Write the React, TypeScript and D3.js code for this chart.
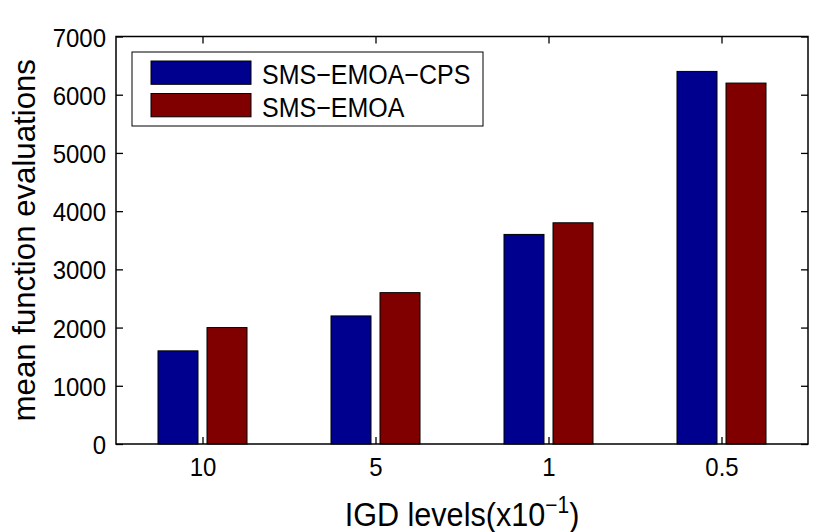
import { useEffect, useRef } from "react";
import * as d3 from "d3";

const levels = ["10", "5", "1", "0.5"];
const seriesNames = ["SMS−EMOA−CPS", "SMS−EMOA"];
const cpsValues = [1600, 2200, 3600, 6400];
const emoaValues = [2000, 2600, 3800, 6200];
const yTicks = [0, 1000, 2000, 3000, 4000, 5000, 6000, 7000];
const colors = ["#00008f", "#800000"];

const App = () => {
  const svgRef = useRef<SVGSVGElement>(null);

  useEffect(() => {
    if (!svgRef.current) return;
    const svg = d3.select(svgRef.current);
    svg.selectAll("*").remove();

    const width = 830;
    const height = 532;
    const margin = { top: 36.5, right: 22, bottom: 88, left: 116 };
    const font = "'Liberation Sans', Arial, Helvetica, sans-serif";

    const data = levels.map((key, i) => ({ key, values: [cpsValues[i], emoaValues[i]] }));

    const x0 = d3
      .scaleBand()
      .domain(levels)
      .range([margin.left, width - margin.right])
      .paddingInner(0.4855)
      .paddingOuter(0.4855 / 2);
    const x1 = d3
      .scaleBand()
      .domain(seriesNames)
      .range([0, x0.bandwidth()])
      .paddingInner(0.1837);
    const y = d3
      .scaleLinear()
      .domain([0, 7000])
      .range([height - margin.bottom, margin.top]);

    // bars
    svg
      .append("g")
      .selectAll("g")
      .data(data)
      .join("g")
      .attr("transform", (d) => `translate(${x0(d.key)},0)`)
      .selectAll("rect")
      .data((d) => d.values.map((v, i) => ({ name: seriesNames[i], v, i })))
      .join("rect")
      .attr("x", (d) => x1(d.name)!)
      .attr("y", (d) => y(d.v))
      .attr("width", x1.bandwidth())
      .attr("height", (d) => y(0) - y(d.v))
      .attr("fill", (d) => colors[d.i])
      .attr("stroke", "#000")
      .attr("stroke-width", 1);

    const left = margin.left;
    const right = width - margin.right;
    const top = margin.top;
    const bottom = height - margin.bottom;

    // axes (inward ticks, mirrored on top/right)
    const yAxis = d3.axisLeft(y).tickValues(yTicks).tickSize(-7).tickPadding(10).tickFormat(d3.format("d"));
    const gy = svg.append("g").attr("transform", `translate(${left},0)`).call(yAxis);
    gy.select(".domain").remove();
    gy.selectAll("text")
      .attr("font-size", 24)
      .attr("font-family", font)
      .attr("fill", "#000")
      .attr("dy", "0.36em")
      .attr("transform", "scale(1,1.1)");
    gy.selectAll("line").attr("stroke", "#000").attr("stroke-width", 1.3);

    const gyr = svg
      .append("g")
      .attr("transform", `translate(${right},0)`)
      .call(d3.axisRight(y).tickValues(yTicks).tickSize(-7).tickFormat(() => ""));
    gyr.select(".domain").remove();
    gyr.selectAll("line").attr("stroke", "#000").attr("stroke-width", 1.3);

    const centers = d3.scalePoint().domain(levels).range([
      x0(levels[0])! + x0.bandwidth() / 2,
      x0(levels[levels.length - 1])! + x0.bandwidth() / 2,
    ]);
    const gx = svg
      .append("g")
      .attr("transform", `translate(0,${bottom})`)
      .call(d3.axisBottom(centers).tickSize(-7).tickPadding(12));
    gx.select(".domain").remove();
    gx.selectAll("text")
      .attr("font-size", 24)
      .attr("font-family", font)
      .attr("fill", "#000")
      .attr("transform", "scale(1,1.1)");
    gx.selectAll("line").attr("stroke", "#000").attr("stroke-width", 1.3);

    const gxt = svg
      .append("g")
      .attr("transform", `translate(0,${top})`)
      .call(d3.axisTop(centers).tickSize(-7).tickFormat(() => ""));
    gxt.select(".domain").remove();
    gxt.selectAll("line").attr("stroke", "#000").attr("stroke-width", 1.3);

    svg
      .append("rect")
      .attr("x", left)
      .attr("y", top)
      .attr("width", right - left)
      .attr("height", bottom - top)
      .attr("fill", "none")
      .attr("stroke", "#000")
      .attr("stroke-width", 1.5);

    // axis labels
    const xl = svg
      .append("text")
      .attr("transform", `translate(${(left + right) / 2},526) scale(1,1.1)`)
      .attr("text-anchor", "middle")
      .attr("font-family", font)
      .attr("font-size", 30.6)
      .attr("fill", "#000");
    xl.append("tspan").text("IGD levels(x10");
    xl.append("tspan").attr("font-size", 21).attr("dy", -12).text("−1");
    xl.append("tspan").attr("dy", 12).text(")");

    svg
      .append("text")
      .attr("transform", `translate(35,${(top + bottom) / 2}) rotate(-90)`)
      .attr("text-anchor", "middle")
      .attr("font-family", font)
      .attr("font-size", 31.2)
      .attr("fill", "#000")
      .text("mean function evaluations");

    // legend
    const lg = svg.append("g");
    lg.append("rect")
      .attr("x", 132)
      .attr("y", 52)
      .attr("width", 351)
      .attr("height", 74)
      .attr("fill", "#fff")
      .attr("stroke", "#000")
      .attr("stroke-width", 1);
    seriesNames.forEach((name, i) => {
      const cy = 72.7 + i * 32.5;
      lg.append("rect")
        .attr("x", 151)
        .attr("y", cy - 11.7)
        .attr("width", 100)
        .attr("height", 23.3)
        .attr("fill", colors[i])
        .attr("stroke", "#000")
        .attr("stroke-width", 1);
      lg.append("text")
        .attr("transform", `translate(262,${cy + 1.5}) scale(1,1.12)`)
        .attr("dy", "0.36em")
        .attr("font-family", font)
        .attr("font-size", 25)
        .attr("fill", "#000")
        .text(name);
    });
  }, []);

  return (
    <svg
      ref={svgRef}
      width={830}
      height={532}
      style={{ position: "absolute", left: 0, top: 0, background: "#fff" }}
    ></svg>
  );
};

export default App;
